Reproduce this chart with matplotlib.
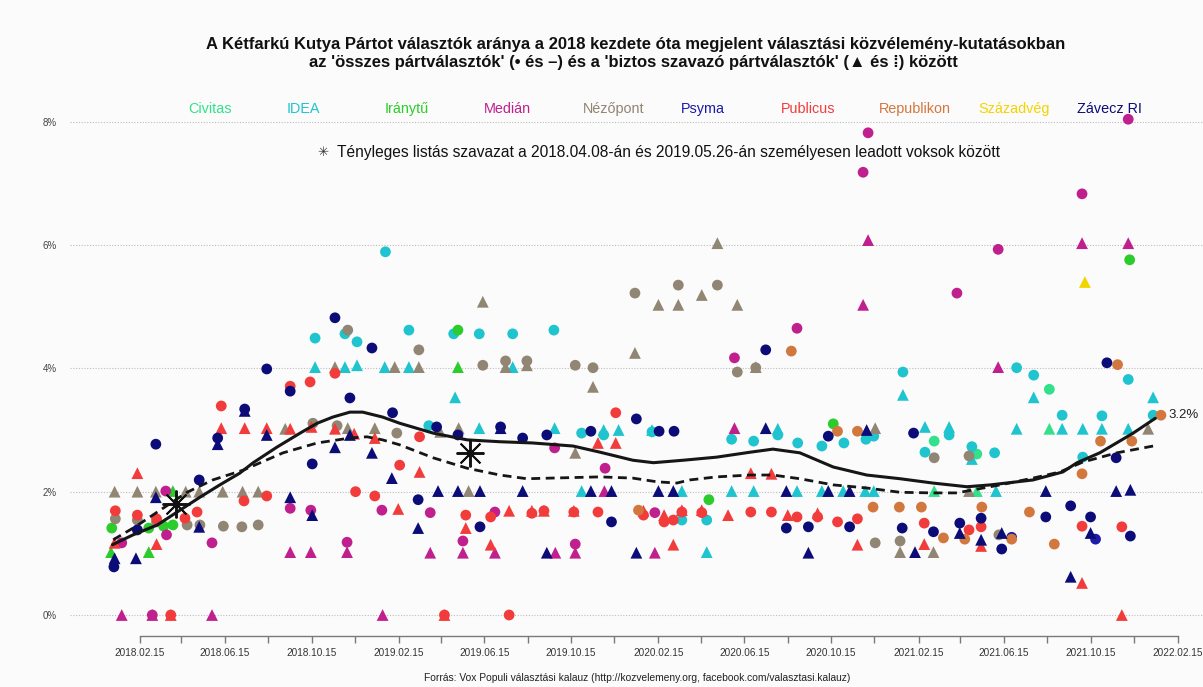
import matplotlib
matplotlib.use("Agg")
import matplotlib.pyplot as plt
import matplotlib.dates as mdates
from datetime import datetime

# ---------------- data ----------------
# each list: (poll date, percent)  -- "all" = circles, "sure" = triangles
civitas_all = [("2021-03-09", 2.82), ("2021-05-08", 2.61), ("2021-08-18", 3.66)]
civitas_sure = [("2021-03-09", 2.01), ("2021-05-08", 2.01), ("2021-08-18", 3.02)]

idea_all = [("2018-10-20", 4.49), ("2018-12-01", 4.56), ("2018-12-18", 4.43), ("2019-01-27", 5.89),
            ("2019-03-01", 4.62), ("2019-03-29", 3.07), ("2019-05-03", 4.56), ("2019-06-08", 4.56),
            ("2019-07-25", 4.56), ("2019-09-21", 4.62), ("2019-10-30", 2.95), ("2019-11-30", 2.92),
            ("2020-02-06", 2.97), ("2020-03-19", 1.54), ("2020-04-23", 1.54), ("2020-05-28", 2.85),
            ("2020-06-28", 2.82), ("2020-08-01", 2.92), ("2020-08-29", 2.79), ("2020-10-02", 2.74),
            ("2020-11-02", 2.79), ("2020-12-03", 2.85), ("2020-12-14", 2.90), ("2021-01-24", 3.94),
            ("2021-02-24", 2.64), ("2021-03-30", 2.92), ("2021-05-01", 2.73), ("2021-06-02", 2.63),
            ("2021-07-03", 4.01), ("2021-07-27", 3.89), ("2021-09-05", 3.24), ("2021-10-04", 2.56),
            ("2021-10-31", 3.23), ("2021-12-07", 3.82), ("2022-01-11", 3.24)]
idea_sure = [("2018-10-20", 4.02), ("2018-12-01", 4.02), ("2018-12-18", 4.05), ("2019-01-26", 4.02),
             ("2019-03-01", 4.02), ("2019-05-05", 3.53), ("2019-06-08", 3.03), ("2019-07-25", 4.02),
             ("2019-09-22", 3.03), ("2019-10-30", 2.01), ("2019-11-30", 3.00), ("2019-12-21", 3.00),
             ("2020-02-06", 3.00), ("2020-03-19", 2.01), ("2020-04-23", 1.02), ("2020-05-28", 2.01),
             ("2020-06-28", 2.01), ("2020-08-01", 3.02), ("2020-08-28", 2.01), ("2020-10-02", 2.01),
             ("2020-11-01", 2.01), ("2020-12-02", 2.01), ("2020-12-14", 2.01), ("2021-01-24", 3.57),
             ("2021-02-24", 3.05), ("2021-03-30", 3.05), ("2021-05-01", 2.53), ("2021-06-04", 2.01),
             ("2021-07-03", 3.02), ("2021-07-27", 3.53), ("2021-09-05", 3.02), ("2021-10-04", 3.02),
             ("2021-10-31", 3.02), ("2021-12-07", 3.02), ("2022-01-11", 3.53)]

iranytu_all = [("2018-01-07", 1.41), ("2018-02-28", 1.41), ("2018-03-21", 1.44), ("2018-04-03", 1.46),
               ("2019-05-09", 4.62), ("2020-04-26", 1.87), ("2020-10-18", 3.10), ("2021-12-09", 5.76)]
iranytu_sure = [("2018-01-06", 1.02), ("2018-02-28", 1.02), ("2018-04-03", 2.01), ("2019-05-09", 4.02)]

median_all = [("2018-01-21", 1.17), ("2018-03-05", 0.0), ("2018-03-24", 2.01), ("2018-03-25", 1.30),
              ("2018-05-28", 1.17), ("2018-09-15", 1.73), ("2018-10-14", 1.70), ("2018-12-04", 1.18),
              ("2019-01-22", 1.70), ("2019-03-31", 1.66), ("2019-05-16", 1.20), ("2019-06-30", 1.67),
              ("2019-09-22", 2.71), ("2019-10-21", 1.15), ("2019-12-02", 2.38), ("2020-02-10", 1.66),
              ("2020-06-01", 4.17), ("2020-08-28", 4.65), ("2020-11-29", 7.18), ("2020-12-06", 7.82),
              ("2021-04-10", 5.22), ("2021-06-07", 5.93), ("2021-10-03", 6.83), ("2021-12-07", 8.04)]
median_sure = [("2018-01-21", 0.0), ("2018-03-05", 0.0), ("2018-05-28", 0.0), ("2018-09-15", 1.02),
               ("2018-10-14", 1.02), ("2018-12-04", 1.02), ("2019-01-23", 0.0), ("2019-03-31", 1.01),
               ("2019-05-16", 1.01), ("2019-06-30", 1.01), ("2019-09-23", 1.01), ("2019-10-21", 1.01),
               ("2019-12-01", 2.01), ("2020-02-10", 1.01), ("2020-06-01", 3.03), ("2020-11-29", 5.03),
               ("2020-12-06", 6.08), ("2021-06-07", 4.02), ("2021-10-03", 6.03), ("2021-12-07", 6.03)]

nezopont_all = [("2018-01-12", 1.56), ("2018-02-12", 1.54), ("2018-03-11", 1.51), ("2018-04-23", 1.46),
                ("2018-05-11", 1.46), ("2018-06-13", 1.44), ("2018-07-09", 1.43), ("2018-08-01", 1.46),
                ("2018-10-17", 3.11), ("2018-11-20", 3.07), ("2018-12-05", 4.62), ("2019-02-12", 2.95),
                ("2019-03-15", 4.30), ("2019-06-13", 4.05), ("2019-07-15", 4.12), ("2019-08-14", 4.12),
                ("2019-10-21", 4.05), ("2019-11-15", 4.01), ("2020-01-13", 5.22), ("2020-03-14", 5.35),
                ("2020-05-08", 5.35), ("2020-06-05", 3.94), ("2020-07-01", 4.01), ("2020-12-16", 1.17),
                ("2021-01-20", 1.20), ("2021-03-09", 2.55), ("2021-04-27", 2.58), ("2021-06-08", 1.30)]
nezopont_sure = [("2018-01-11", 2.0), ("2018-02-12", 2.0), ("2018-03-10", 2.0), ("2018-04-21", 2.0),
                 ("2018-05-10", 2.0), ("2018-06-12", 2.0), ("2018-07-10", 2.0), ("2018-08-01", 2.0),
                 ("2018-09-08", 3.02), ("2018-11-17", 4.02), ("2018-12-05", 3.03), ("2019-01-12", 3.03),
                 ("2019-02-09", 4.02), ("2019-03-15", 4.02), ("2019-04-14", 2.97), ("2019-05-10", 3.03),
                 ("2019-05-24", 2.01), ("2019-06-13", 5.08), ("2019-07-15", 4.02), ("2019-08-14", 4.05),
                 ("2019-10-21", 2.63), ("2019-11-15", 3.70), ("2020-01-13", 4.25), ("2020-02-15", 5.03),
                 ("2020-03-14", 5.03), ("2020-04-16", 5.19), ("2020-05-08", 6.03), ("2020-06-05", 5.03),
                 ("2020-07-01", 4.02), ("2020-12-16", 3.03), ("2021-01-20", 1.02), ("2021-03-08", 1.02),
                 ("2021-04-27", 2.01), ("2022-01-04", 3.02)]

psyma_all = [("2021-06-26", 1.26), ("2021-10-22", 1.23)]
psyma_sure = []

publicus_all = [("2018-01-12", 1.69), ("2018-02-12", 1.62), ("2018-03-11", 1.56), ("2018-03-31", 0.0),
                ("2018-04-20", 1.57), ("2018-05-07", 1.67), ("2018-06-10", 3.39), ("2018-07-12", 1.85),
                ("2018-08-13", 1.93), ("2018-09-15", 3.71), ("2018-10-13", 3.78), ("2018-11-17", 3.92),
                ("2018-12-16", 2.0), ("2019-01-12", 1.93), ("2019-02-16", 2.43), ("2019-03-16", 2.89),
                ("2019-04-20", 0.0), ("2019-05-20", 1.62), ("2019-06-24", 1.59), ("2019-07-20", 0.0),
                ("2019-08-21", 1.65), ("2019-09-07", 1.69), ("2019-10-19", 1.67), ("2019-11-22", 1.67),
                ("2019-12-17", 3.28), ("2020-01-25", 1.62), ("2020-02-23", 1.51), ("2020-03-07", 1.54),
                ("2020-03-19", 1.67), ("2020-04-16", 1.66), ("2020-06-24", 1.67), ("2020-07-23", 1.67),
                ("2020-08-28", 1.59), ("2020-09-26", 1.59), ("2020-10-24", 1.51), ("2020-11-21", 1.56),
                ("2021-02-23", 1.49), ("2021-04-27", 1.38), ("2021-05-14", 1.43), ("2021-10-03", 1.44),
                ("2021-11-28", 1.43)]
publicus_sure = [("2018-01-11", 1.17), ("2018-02-12", 2.30), ("2018-03-11", 1.15), ("2018-03-31", 0.0),
                 ("2018-06-10", 3.03), ("2018-07-13", 3.03), ("2018-08-13", 3.03), ("2018-09-15", 3.02),
                 ("2018-10-15", 3.05), ("2018-11-17", 3.02), ("2018-12-14", 2.94), ("2019-01-12", 2.87),
                 ("2019-02-14", 1.72), ("2019-03-16", 2.32), ("2019-04-20", 0.0), ("2019-05-20", 1.41),
                 ("2019-06-24", 1.14), ("2019-07-20", 1.69), ("2019-08-21", 1.69), ("2019-09-07", 1.69),
                 ("2019-10-19", 1.69), ("2019-11-22", 2.79), ("2019-12-17", 2.79), ("2020-01-25", 1.69),
                 ("2020-02-23", 1.62), ("2020-03-07", 1.14), ("2020-03-19", 1.70), ("2020-04-16", 1.70),
                 ("2020-05-23", 1.62), ("2020-06-24", 2.30), ("2020-07-23", 2.29), ("2020-08-15", 1.62),
                 ("2020-09-26", 1.65), ("2020-11-21", 1.14), ("2021-02-23", 1.15), ("2021-05-14", 1.12),
                 ("2021-10-03", 0.52), ("2021-11-28", 0.0)]

republikon_all = [("2020-01-18", 1.70), ("2020-08-20", 4.28), ("2020-10-24", 2.98), ("2020-11-21", 2.98),
                  ("2020-12-13", 1.75), ("2021-01-19", 1.75), ("2021-02-19", 1.75), ("2021-03-22", 1.25),
                  ("2021-04-21", 1.23), ("2021-05-15", 1.75), ("2021-06-26", 1.23), ("2021-07-21", 1.67),
                  ("2021-08-25", 1.15), ("2021-10-03", 2.29), ("2021-10-29", 2.82), ("2021-11-22", 4.06),
                  ("2021-12-12", 2.82), ("2022-01-22", 3.24)]
republikon_sure = []

szazadveg_all = []
szazadveg_sure = [("2021-10-07", 5.40)]

zavecz_all = [("2018-01-10", 0.78), ("2018-02-12", 1.38), ("2018-03-10", 2.77), ("2018-05-10", 2.19),
              ("2018-06-05", 2.87), ("2018-07-13", 3.34), ("2018-08-13", 3.99), ("2018-09-15", 3.63),
              ("2018-10-16", 2.45), ("2018-11-17", 4.82), ("2018-12-08", 3.52), ("2019-01-08", 4.33),
              ("2019-02-06", 3.28), ("2019-03-14", 1.87), ("2019-04-09", 3.05), ("2019-05-09", 2.92),
              ("2019-06-09", 1.43), ("2019-07-08", 3.05), ("2019-08-08", 2.87), ("2019-09-11", 2.92),
              ("2019-11-12", 2.98), ("2019-12-11", 1.51), ("2020-01-15", 3.18), ("2020-02-16", 2.98),
              ("2020-03-08", 2.98), ("2020-07-15", 4.30), ("2020-08-13", 1.41), ("2020-09-13", 1.43),
              ("2020-10-11", 2.90), ("2020-11-10", 1.43), ("2021-01-23", 1.41), ("2021-02-08", 2.95),
              ("2021-03-08", 1.35), ("2021-04-14", 1.49), ("2021-05-14", 1.57), ("2021-06-12", 1.07),
              ("2021-08-13", 1.59), ("2021-09-17", 1.77), ("2021-10-15", 1.59), ("2021-11-07", 4.09),
              ("2021-11-20", 2.55), ("2021-12-10", 1.28)]
zavecz_sure = [("2018-01-11", 0.92), ("2018-02-10", 0.92), ("2018-03-10", 1.91), ("2018-05-10", 1.43),
               ("2018-06-05", 2.77), ("2018-07-13", 3.31), ("2018-08-13", 2.92), ("2018-09-15", 1.91),
               ("2018-10-16", 1.62), ("2018-11-17", 2.72), ("2018-12-08", 2.92), ("2019-01-08", 2.63),
               ("2019-02-05", 2.22), ("2019-03-14", 1.41), ("2019-04-11", 2.01), ("2019-05-09", 2.01),
               ("2019-06-09", 2.01), ("2019-07-08", 3.03), ("2019-08-08", 2.01), ("2019-09-11", 1.01),
               ("2019-11-12", 2.01), ("2019-12-11", 2.01), ("2020-01-15", 1.01), ("2020-02-15", 2.01),
               ("2020-03-07", 2.01), ("2020-07-15", 3.03), ("2020-08-13", 2.01), ("2020-09-13", 1.01),
               ("2020-10-11", 2.01), ("2020-11-10", 2.01), ("2020-12-04", 3.00), ("2021-02-10", 1.02),
               ("2021-04-14", 1.33), ("2021-05-14", 1.22), ("2021-06-12", 1.33), ("2021-08-13", 2.01),
               ("2021-09-17", 0.62), ("2021-10-15", 1.33), ("2021-11-20", 2.01), ("2021-12-10", 2.03)]

pollster_names = ["Civitas", "IDEA", "Iránytű", "Medián", "Nézőpont", "Psyma",
                  "Publicus", "Republikon", "Századvég", "Závecz RI"]
pollster_colors = ["#33e08c", "#1fc4cf", "#2bcc2b", "#c0208e", "#918573", "#1c1ca8",
                   "#f23c3c", "#d2783f", "#f2d400", "#0c0c78"]

# smoothed trend lines
trend_all = [("2018-01-08", 1.14), ("2018-02-06", 1.30), ("2018-03-12", 1.46), ("2018-04-13", 1.70),
             ("2018-05-11", 1.91), ("2018-06-08", 2.11), ("2018-07-06", 2.30), ("2018-07-25", 2.47),
             ("2018-08-27", 2.72), ("2018-09-29", 2.95), ("2018-10-23", 3.11), ("2018-11-14", 3.21),
             ("2018-12-08", 3.29), ("2018-12-26", 3.29), ("2019-01-23", 3.21), ("2019-02-16", 3.11),
             ("2019-04-04", 2.95), ("2019-05-22", 2.84), ("2019-07-07", 2.81), ("2019-08-22", 2.79),
             ("2019-10-18", 2.74), ("2019-11-25", 2.64), ("2020-01-10", 2.51), ("2020-02-08", 2.47),
             ("2020-03-21", 2.51), ("2020-05-07", 2.56), ("2020-06-23", 2.64), ("2020-07-25", 2.69),
             ("2020-09-01", 2.63), ("2020-10-18", 2.40), ("2020-12-04", 2.27), ("2021-01-20", 2.21),
             ("2021-03-07", 2.14), ("2021-04-24", 2.08), ("2021-05-27", 2.11), ("2021-07-26", 2.19),
             ("2021-09-06", 2.32), ("2021-09-26", 2.47), ("2021-10-28", 2.63), ("2021-12-14", 2.95),
             ("2022-01-14", 3.19)]
trend_sure = [("2018-01-09", 1.22), ("2018-02-09", 1.43), ("2018-03-16", 1.70), ("2018-04-23", 1.99),
              ("2018-05-29", 2.19), ("2018-07-11", 2.35), ("2018-09-05", 2.63), ("2018-10-23", 2.79),
              ("2018-12-08", 2.87), ("2019-01-01", 2.89), ("2019-01-23", 2.84), ("2019-02-16", 2.76),
              ("2019-04-04", 2.55), ("2019-05-22", 2.38), ("2019-07-07", 2.27), ("2019-08-14", 2.21),
              ("2019-09-16", 2.22), ("2019-11-25", 2.24), ("2020-01-10", 2.22), ("2020-02-13", 2.16),
              ("2020-03-12", 2.14), ("2020-03-30", 2.19), ("2020-05-07", 2.24), ("2020-06-23", 2.27),
              ("2020-07-25", 2.27), ("2020-09-01", 2.21), ("2020-10-18", 2.11), ("2020-12-04", 2.06),
              ("2021-01-20", 1.99), ("2021-03-07", 1.98), ("2021-04-10", 1.98), ("2021-05-03", 2.03),
              ("2021-06-10", 2.11), ("2021-07-26", 2.22), ("2021-09-02", 2.32), ("2021-10-04", 2.48),
              ("2021-11-21", 2.63), ("2022-01-11", 2.74)]

# actual election results (asterisks)
election_dates = ["2018-04-08", "2019-05-26"]
election_values = [1.80, 2.63]

last_value_label = "3.2%"
x_tick_start, x_tick_end = "2018-02-15", "2022-02-15"
y_ticks = [0, 2, 4, 6, 8]

# ---------------- drawing ----------------
FONT = ["Liberation Sans", "DejaVu Sans"]
plt.rcParams["font.family"] = FONT

def d(s):
    return datetime.strptime(s, "%Y-%m-%d")

def split(rows):
    return [mdates.date2num(d(a)) for a, _ in rows], [b for _, b in rows]

W, H = 1203, 687
BG = "#fbfbfb"
fig = plt.figure(figsize=(W / 100, H / 100), dpi=100, facecolor=BG)
ax_left, ax_right, ax_bottom, ax_top = 70, 1203, 636, 95
ax = fig.add_axes([ax_left / W, 1 - ax_bottom / H, (ax_right - ax_left) / W, (ax_bottom - ax_top) / H])
ax.set_facecolor(BG)

px_per_pct = (615 - 121.7) / 8.0
ax.set_ylim(-(ax_bottom - 615) / px_per_pct, (615 - ax_top) / px_per_pct)
px_per_day = (1178 - 139.5) / 1461.0
base = mdates.date2num(d(x_tick_start))
ax.set_xlim(base - (139.5 - ax_left) / px_per_day, base + (ax_right - 139.5) / px_per_day)

for yv in y_ticks:
    ax.axhline(yv, color="#bdbdbd", lw=0.8, ls=(0, (1, 1.5)), zorder=1)

all_series = [civitas_all, idea_all, iranytu_all, median_all, nezopont_all, psyma_all,
              publicus_all, republikon_all, szazadveg_all, zavecz_all]
sure_series = [civitas_sure, idea_sure, iranytu_sure, median_sure, nezopont_sure, psyma_sure,
               publicus_sure, republikon_sure, szazadveg_sure, zavecz_sure]

z = 3
for col, a_rows, s_rows in zip(pollster_colors, all_series, sure_series):
    if s_rows:
        xs, ys = split(s_rows)
        ax.scatter(xs, ys, marker="^", s=72, color=col, edgecolors="none", zorder=z)
    if a_rows:
        xs, ys = split(a_rows)
        ax.scatter(xs, ys, marker="o", s=60, color=col, edgecolors="none", zorder=z + 0.5)
    z += 1

xs, ys = split(trend_all)
ax.plot(xs, ys, color="#161616", lw=2.2, solid_capstyle="round", zorder=20)
xs, ys = split(trend_sure)
ax.plot(xs, ys, color="#161616", lw=2.0, dashes=(3.2, 2), zorder=20)

ex = [mdates.date2num(d(s)) for s in election_dates]
ax.plot(ex, election_values, ls="none", marker=(8, 2, 0), markersize=20, mew=1.4,
        color="#111111", zorder=25)

ax.text(mdates.date2num(d(trend_all[-1][0])) + 18, 3.24, last_value_label, fontsize=9.5,
        color="#222222", va="center", ha="left", zorder=30)

# axes styling
for sp in ["top", "right", "left"]:
    ax.spines[sp].set_visible(False)
ax.spines["bottom"].set_color("#7a7a7a")
ax.spines["bottom"].set_linewidth(1.0)
ax.spines["bottom"].set_bounds(base, mdates.date2num(d(x_tick_end)))

tick_dates = []
cur = d(x_tick_start)
while cur <= d(x_tick_end):
    tick_dates.append(cur)
    m = cur.month + 2
    y = cur.year + (m - 1) // 12
    m = (m - 1) % 12 + 1
    cur = datetime(y, m, 15)
ax.set_xticks([mdates.date2num(t) for t in tick_dates])
ax.set_xticklabels([t.strftime("%Y.%m.%d") if i % 2 == 0 else "" for i, t in enumerate(tick_dates)])
ax.tick_params(axis="x", length=5, width=1.0, color="#7a7a7a", labelsize=7.2,
               labelcolor="#333333", pad=4)
ax.set_yticks(y_ticks)
ax.set_yticklabels([f"{v}%" for v in y_ticks])
ax.tick_params(axis="y", length=0, labelsize=7, labelcolor="#444444", pad=9.5)

# title
fig.text(636 / W, 1 - 44 / H,
         "A Kétfarkú Kutya Pártot választók aránya a 2018 kezdete óta megjelent választási közvélemény-kutatásokban",
         ha="center", va="center", fontsize=12, fontweight="bold", color="#111111")
fig.text(633 / W, 1 - 62 / H,
         "az 'összes pártválasztók' (• és –) és a 'biztos szavazó pártválasztók' (▲ és ⁞) között",
         ha="center", va="center", fontsize=12, fontweight="bold", color="#111111")

# pollster colour legend
legend_x = [210, 303, 407, 507, 614, 703, 808, 915, 1014, 1109]
for name, col, lx in zip(pollster_names, pollster_colors, legend_x):
    fig.text(lx / W, 1 - 109 / H, name, ha="center", va="center", fontsize=10.4, color=col)

# asterisk note
fig.text(323 / W, 1 - 153 / H, "✳", ha="center", va="center", fontsize=9.5, color="#333333",
         family=["DejaVu Sans"])
fig.text(337 / W, 1 - 153 / H,
         "Tényleges listás szavazat a 2018.04.08-án és 2019.05.26-án személyesen leadott voksok között",
         ha="left", va="center", fontsize=11.2, color="#111111")

fig.text(637 / W, 1 - 678 / H,
         "Forrás: Vox Populi választási kalauz (http://kozvelemeny.org, facebook.com/valasztasi.kalauz)",
         ha="center", va="center", fontsize=7.4, color="#222222")

fig.savefig("out.png", dpi=100, facecolor=BG)
